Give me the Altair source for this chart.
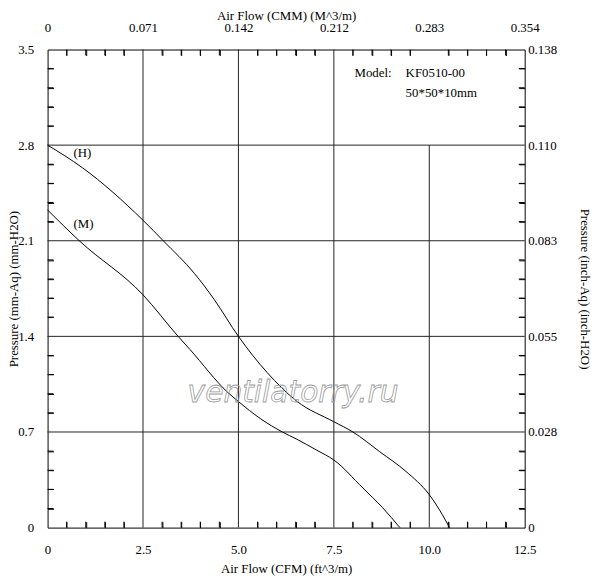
import altair as alt
import pandas as pd

# ---- data ----
h_cfm = [0, 0.91, 2.5, 3.03, 3.85, 4.37, 5.0, 5.75, 6.53, 7.5, 8.0, 8.70, 9.39, 10.0, 10.34, 10.53]
h_p   = [2.8, 2.635, 2.25, 2.1, 1.86, 1.668, 1.4, 1.136, 0.925, 0.775, 0.7, 0.556, 0.411, 0.241, 0.096, 0]
m_cfm = [0, 0.83, 2.5, 3.42, 3.73, 4.72, 5.0, 5.58, 6.15, 6.53, 7.05, 7.5, 8.26, 8.78, 9.23]
m_p   = [2.325, 2.1, 1.704, 1.4, 1.304, 0.99, 0.923, 0.797, 0.7, 0.647, 0.567, 0.495, 0.29, 0.145, 0]

cfm_ticks = [0, 2.5, 5.0, 7.5, 10.0, 12.5]
cfm_labels = ["0", "2.5", "5.0", "7.5", "10.0", "12.5"]
cmm_labels = ["0", "0.071", "0.142", "0.212", "0.283", "0.354"]
p_ticks = [0, 0.7, 1.4, 2.1, 2.8, 3.5]
p_labels = ["0", "0.7", "1.4", "2.1", "2.8", "3.5"]
inch_labels = ["0", "0.028", "0.055", "0.083", "0.110", "0.138"]
cfm_minor = [0.5, 1.0, 1.5, 2.0, 3.0, 3.5, 4.0, 4.5, 5.5, 6.0, 6.5, 7.0,
             8.0, 8.5, 9.0, 9.5, 10.5, 11.0, 11.5, 12.0]
p_minor = [0.14, 0.28, 0.42, 0.56, 0.84, 0.98, 1.12, 1.26, 1.54, 1.68, 1.82, 1.96,
           2.24, 2.38, 2.52, 2.66, 2.94, 3.08, 3.22, 3.36]

vgrid_x = [2.5, 5.0, 7.5, 10.0]
vgrid_top = [3.5, 3.5, 3.5, 2.8]
hgrid_y = [0.7, 1.4, 2.1, 2.8]

curve_labels = ["(H)", "(M)"]
curve_label_x = [0.91, 0.94]
curve_label_y = [2.745, 2.225]

model_text = ["Model:", "KF0510-00", "50*50*10mm"]
model_x = [8.04, 9.38, 9.38]
model_y = [3.325, 3.325, 3.185]

FONT = "Liberation Serif"
XD = [0, 12.5]
YD = [0, 3.5]
GRID = "#222222"
W, H = 482, 483


def lexpr(labels, step):
    arr = "[" + ",".join("'%s'" % s for s in labels) + "]"
    return "%s[round(datum.value/%s)]" % (arr, step)


def xscale():
    return alt.Scale(domain=XD, nice=False, zero=False)


def yscale():
    return alt.Scale(domain=YD, nice=False, zero=False)


def label_axis(orient, values, labels, step, title, lp, tx, ty, tb):
    return alt.Axis(orient=orient, values=values, labelExpr=lexpr(labels, step),
                    ticks=False, domain=False, grid=False, labelPadding=lp,
                    labelFlush=False, labelOverlap=False, labelBound=False,
                    title=title, titleX=tx, titleY=ty, titleBaseline=tb,
                    titleAlign="center",
                    labelFont=FONT, titleFont=FONT,
                    labelFontSize=13, titleFontSize=13, labelColor="black",
                    titleColor="black", titleFontWeight="normal")


def minor_axis(orient, values):
    return alt.Axis(orient=orient, values=values, labels=True, labelOpacity=0,
                    labelExpr="''", ticks=True, tickSize=6, tickColor="black",
                    tickWidth=1, tickOpacity=1, domain=False, grid=False,
                    title=None, offset=-6, zindex=2)


# vertical grid lines + bottom / left labelled axes
vdf = pd.DataFrame({"x": vgrid_x, "y0": [0] * len(vgrid_x), "y1": vgrid_top})
vgrid = alt.Chart(vdf).mark_rule(color=GRID, strokeWidth=1).encode(
    x=alt.X("x:Q", scale=xscale(),
            axis=label_axis("bottom", cfm_ticks, cfm_labels, 2.5,
                            "Air Flow (CFM) (ft^3/m)", 16, W / 2, 41, "middle")),
    y=alt.Y("y0:Q", scale=yscale(),
            axis=label_axis("left", p_ticks, p_labels, 0.7,
                            "Pressure (mm-Aq) (mm-H2O)", 14, -34, H / 2, "middle")),
    y2="y1:Q",
)

# horizontal grid lines + top / right labelled axes
hdf = pd.DataFrame({"y": hgrid_y, "x0": [XD[0]] * 4, "x1": [XD[1]] * 4})
hgrid = alt.Chart(hdf).mark_rule(color=GRID, strokeWidth=1).encode(
    y=alt.Y("y:Q", scale=yscale(),
            axis=label_axis("right", p_ticks, inch_labels, 0.7,
                            "Pressure (inch-Aq) (inch-H2O)", 3, 60, H / 2, "middle")),
    x=alt.X("x0:Q", scale=xscale(),
            axis=label_axis("top", cfm_ticks, cmm_labels, 2.5,
                            "Air Flow (CMM) (M^3/m)", 15, W / 2, -30, "alphabetic")),
    x2="x1:Q",
)

# minor ticks drawn as short vertical / horizontal tick marks along the edges
bx = pd.DataFrame({"v": cfm_minor, "e": [YD[0]] * len(cfm_minor)})
tx = pd.DataFrame({"v": cfm_minor, "e": [YD[1]] * len(cfm_minor)})
ly = pd.DataFrame({"v": p_minor, "e": [XD[0]] * len(p_minor)})
ry = pd.DataFrame({"v": p_minor, "e": [XD[1]] * len(p_minor)})
tb = alt.Chart(bx).mark_rule(color="black", strokeWidth=1).encode(
    x=alt.X("v:Q", scale=xscale(), axis=None),
    y=alt.Y("e:Q", scale=yscale(), axis=None),
    y2=alt.Y2(datum=0.0435),
)
tt = alt.Chart(tx).mark_rule(color="black", strokeWidth=1).encode(
    x=alt.X("v:Q", scale=xscale(), axis=None),
    y=alt.Y("e:Q", scale=yscale(), axis=None),
    y2=alt.Y2(datum=3.4565),
)
tl = alt.Chart(ly).mark_rule(color="black", strokeWidth=1).encode(
    y=alt.Y("v:Q", scale=yscale(), axis=None),
    x=alt.X("e:Q", scale=xscale(), axis=None),
    x2=alt.X2(datum=0.156),
)
tr = alt.Chart(ry).mark_rule(color="black", strokeWidth=1).encode(
    y=alt.Y("v:Q", scale=yscale(), axis=None),
    x=alt.X("e:Q", scale=xscale(), axis=None),
    x2=alt.X2(datum=12.344),
)

# curves (their axes carry the inward bottom / left minor ticks)
cdf = pd.concat([
    pd.DataFrame({"cfm": h_cfm, "p": h_p, "s": "H"}),
    pd.DataFrame({"cfm": m_cfm, "p": m_p, "s": "M"}),
])
curves = alt.Chart(cdf).mark_line(color="black", strokeWidth=1,
                                  interpolate="monotone").encode(
    x=alt.X("cfm:Q", scale=xscale(), axis=minor_axis("bottom", cfm_minor)),
    y=alt.Y("p:Q", scale=yscale(), axis=minor_axis("left", p_minor)),
    detail="s:N",
)

# curve labels (their axes carry the inward top / right minor ticks)
ldf = pd.DataFrame({"t": curve_labels, "x": curve_label_x, "y": curve_label_y})
clabels = alt.Chart(ldf).mark_text(font=FONT, fontSize=13, color="black",
                                   align="center", baseline="middle").encode(
    x=alt.X("x:Q", scale=xscale(), axis=minor_axis("top", cfm_minor)),
    y=alt.Y("y:Q", scale=yscale(), axis=minor_axis("right", p_minor)),
    text="t:N",
)

# model text
mdf = pd.DataFrame({"t": model_text, "x": model_x, "y": model_y})
model = alt.Chart(mdf).mark_text(font=FONT, fontSize=13, color="black",
                                 align="left", baseline="middle").encode(
    x=alt.X("x:Q", scale=xscale(), axis=None),
    y=alt.Y("y:Q", scale=yscale(), axis=None),
    text="t:N",
)

# watermark
wdf = pd.DataFrame({"t": ["ventilatorry.ru"], "x": [6.43], "y": [0.92]})
water = alt.Chart(wdf).mark_text(font="DejaVu Sans", fontSize=30,
                                 fontStyle="italic", fillOpacity=0,
                                 stroke="#9a9a9a", strokeWidth=0.8,
                                 align="center", baseline="alphabetic").encode(
    x=alt.X("x:Q", scale=xscale(), axis=None),
    y=alt.Y("y:Q", scale=yscale(), axis=None),
    text="t:N",
)

chart = alt.layer(vgrid, hgrid, tb, tt, tl, tr, curves, clabels, model, water).resolve_scale(
    x="independent", y="independent"
).resolve_axis(x="independent", y="independent").properties(
    width=W, height=H,
    autosize=alt.AutoSizeParams(type="none"),
    padding={"left": 40, "top": 39, "right": 68, "bottom": 52},
    background="white",
).configure_view(stroke="black", strokeWidth=1)

chart.save("out.html", embed_options={"renderer": "svg", "actions": False})
